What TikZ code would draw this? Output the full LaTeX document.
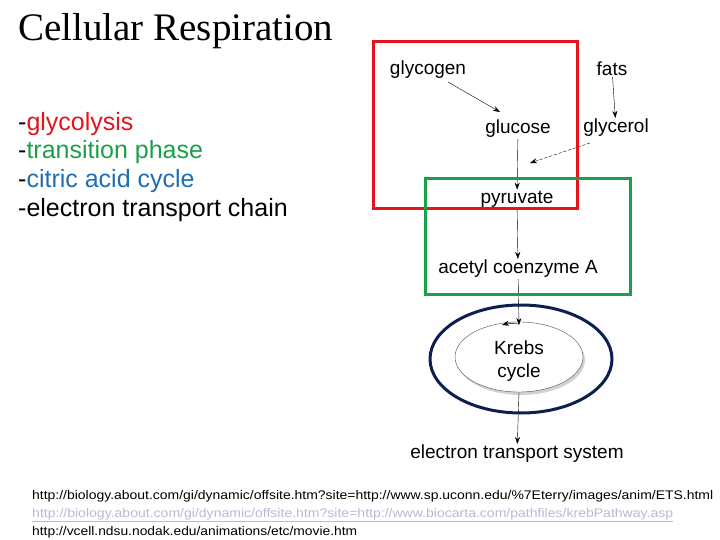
\documentclass[tikz,border=0pt]{standalone}
\usepackage{fontspec}
\setmainfont{Liberation Serif}
\newfontfamily\sansf{Liberation Sans}
\usetikzlibrary{arrows.meta,shadows,shapes.geometric}
\definecolor{rred}{HTML}{E3141B}
\definecolor{ggreen}{HTML}{1BA04A}
\definecolor{bblue}{HTML}{1E6EB4}
\definecolor{nnavy}{HTML}{0D1F4F}
\definecolor{llink}{HTML}{B8B8D8}
\begin{document}
\begin{tikzpicture}[x=1pt,y=-1pt,
  lab/.style={font=\sansf\fontsize{19}{21}\selectfont,inner sep=1pt},
  li/.style={font=\sansf\fontsize{25}{27}\selectfont,anchor=west,inner sep=0pt},
  url/.style={font=\sansf\fontsize{12.5}{13}\selectfont,anchor=west,inner sep=0pt},
  arr/.style={-{Stealth[length=7pt,width=5pt]},thin}]
\useasboundingbox (0,0) rectangle (720,540);
\node[font=\fontsize{39}{41}\selectfont,anchor=west,inner sep=0pt] (title) at (18,31) {Cellular Respiration};
\node[li] (l1) at (18,124) {-\textcolor{rred}{glycolysis}};
\node[li] (l2) at (18,152) {-\textcolor{ggreen}{transition phase}};
\node[li] (l3) at (18,181) {-\textcolor{bblue}{citric acid cycle}};
\node[li] (l4) at (18,210) {-electron transport chain};
% inner ellipse
\node[draw=black!70,ellipse,minimum width=128pt,minimum height=70pt,fill=white,
  drop shadow={shadow xshift=2pt,shadow yshift=-3pt,fill=black!35}] (krebsE) at (519,357) {};
\node[lab,align=center] (krebs) at (519,361) {Krebs\\[2pt]cycle};
\node[lab] (glycogen) at (428,70) {glycogen};
\node[lab] (fats) at (612,69) {fats};
\node[lab] (glucose) at (518,129) {glucose};
\node[lab] (glycerol) at (616,128) {glycerol};
\node[lab] (pyruvate) at (517,199) {pyruvate};
\node[lab] (acetyl) at (518,269) {acetyl coenzyme A};
\node[lab] (ets) at (517,454) {electron transport system};
\coordinate (gm) at (530,163);
\draw[arr] (448,82) -- (500,112);
\draw[arr] (fats) -- (glycerol);
\draw[arr] (glucose) -- (pyruvate);
\draw[arr,densely dashed] (590,143) -- (gm);
\draw[arr] (pyruvate) -- (acetyl);
\draw[arr] (acetyl) -- (519,325);
\draw[arr] (519,324) to[bend right=12] (502,325);
\draw[arr] (krebsE.south) -- (ets);
% boxes
\draw[rred,line width=3pt] (373,42) rectangle (577,209);
\draw[ggreen,line width=3pt] (425,179) rectangle (630,294);
\draw[nnavy,line width=3pt] (521,359) ellipse [x radius=91,y radius=54];
\node[url] (u1) at (32,496) {\resizebox{681pt}{\height}{http://biology.about.com/gi/dynamic/offsite.htm?site=http://www.sp.uconn.edu/\%7Eterry/images/anim/ETS.html}};
\node[url,text=llink] (u2) at (32,515) {\underline{\resizebox{641pt}{\height}{http://biology.about.com/gi/dynamic/offsite.htm?site=http://www.biocarta.com/pathfiles/krebPathway.asp}}};
\node[url] (u3) at (32,532) {\resizebox{325pt}{\height}{http://vcell.ndsu.nodak.edu/animations/etc/movie.htm}};
\end{tikzpicture}
\end{document}
